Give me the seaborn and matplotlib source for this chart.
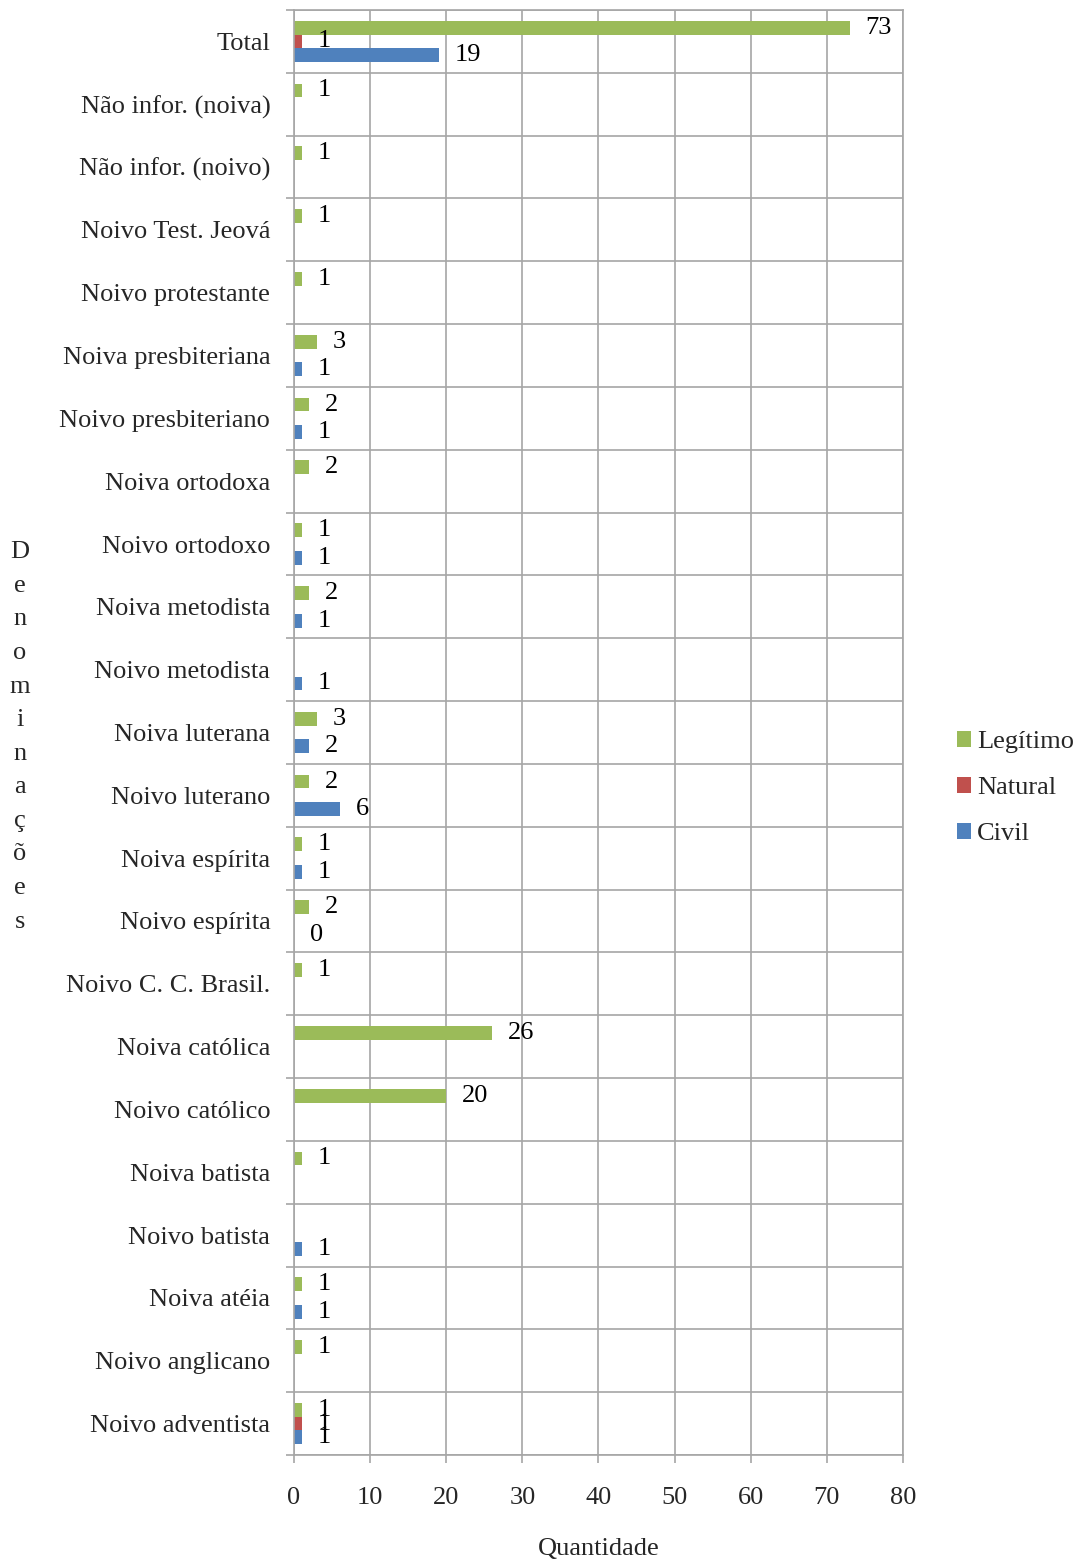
import numpy as np
import pandas as pd
import matplotlib
matplotlib.use("Agg")
import matplotlib.pyplot as plt
import seaborn as sns

# Categories, top to bottom
categorias = [
    "Total",
    "Não infor. (noiva)",
    "Não infor. (noivo)",
    "Noivo Test. Jeová",
    "Noivo protestante",
    "Noiva presbiteriana",
    "Noivo presbiteriano",
    "Noiva ortodoxa",
    "Noivo ortodoxo",
    "Noiva metodista",
    "Noivo metodista",
    "Noiva luterana",
    "Noivo luterano",
    "Noiva espírita",
    "Noivo espírita",
    "Noivo C. C. Brasil.",
    "Noiva católica",
    "Noivo católico",
    "Noiva batista",
    "Noivo batista",
    "Noiva atéia",
    "Noivo anglicano",
    "Noivo adventista",
]

series = ["Legítimo", "Natural", "Civil"]

# None = no entry for that category
legitimo = [73, 1, 1, 1, 1, 3, 2, 2, 1, 2, None, 3, 2, 1, 2, 1, 26, 20, 1, None, 1, 1, 1]
natural = [1, None, None, None, None, None, None, None, None, None, None, None, None,
           None, None, None, None, None, None, None, None, None, 1]
civil = [19, None, None, None, None, 1, 1, None, 1, 1, 1, 2, 6, 1, 0, None, None, None,
         None, 1, 1, None, 1]

cores = ["#9BBB59", "#C0504D", "#4F81BD"]

linhas = []
for nome, valores in zip(series, [legitimo, natural, civil]):
    for cat, v in zip(categorias, valores):
        if v is not None:
            linhas.append({"Denominação": cat, "Tipo": nome, "Quantidade": v})
df = pd.DataFrame(linhas)

sns.set_style("white")
plt.rcParams["font.family"] = ["Liberation Serif", "DejaVu Serif"]

fig = plt.figure(figsize=(10.8, 15.63), dpi=100)
ax = fig.add_axes([0.2722, 0.0691, 0.5639, 0.9245])

sns.barplot(
    data=df, y="Denominação", x="Quantidade", hue="Tipo",
    order=categorias, hue_order=series, palette=cores,
    orient="h", width=0.66, errorbar=None, saturation=1,
    dodge=True, ax=ax, legend=True, linewidth=0,
)

for cont in ax.containers:
    ax.bar_label(cont, fmt="%g", padding=11.5, fontsize=19, color="black")

grid_color = "#A6A6A6"
ax.set_xlim(0, 80)
ax.set_ylim(len(categorias) - 0.5, -0.5)
ax.set_xticks(np.arange(0, 81, 10))
ax.set_yticks(np.arange(len(categorias)))
ax.set_yticks(np.arange(len(categorias) + 1) - 0.5, minor=True)

ax.grid(False)
ax.xaxis.grid(True, color=grid_color, linewidth=1.2)
ax.yaxis.grid(True, which="minor", color=grid_color, linewidth=1.2)
ax.set_axisbelow(True)

ax.tick_params(axis="x", which="major", length=6, width=1.2, color=grid_color,
               labelsize=19, pad=17, bottom=True, direction="out")
ax.tick_params(axis="y", which="major", length=0, labelsize=19, pad=17)
ax.tick_params(axis="y", which="minor", length=6, width=1.2, color=grid_color,
               left=True, direction="out")

for s in ax.spines.values():
    s.set_visible(True)
    s.set_color(grid_color)
    s.set_linewidth(1.2)

ax.set_ylabel("")
ax.set_xlabel("Quantidade", fontsize=19, labelpad=21)

fig.text(0.0185, 0.5285, "\n".join("Denominações"), ha="center", va="center",
         fontsize=19, linespacing=1.68)

ax.legend(
    loc="center left", bbox_to_anchor=(1.088, 0.4616), frameon=False,
    fontsize=19, handlelength=0.55, handleheight=0.55, handletextpad=0.22,
    labelspacing=0.89, borderaxespad=0, borderpad=0,
)

fig.savefig("out.png", dpi=100)
